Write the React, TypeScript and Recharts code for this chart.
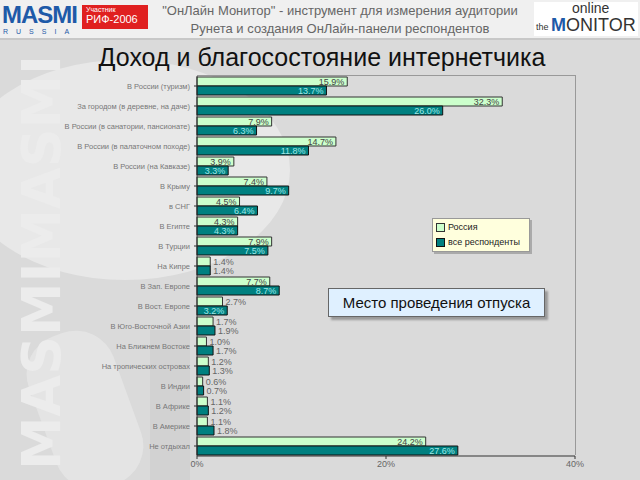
import React from "react";
import {
  Bar,
  BarChart,
  LabelList,
  XAxis,
  YAxis,
} from "recharts";

const places = [
  "В России (туризм)",
  "За городом (в деревне, на даче)",
  "В России (в санатории, пансионате)",
  "В России (в палаточном походе)",
  "В России (на Кавказе)",
  "В Крыму",
  "в СНГ",
  "В Египте",
  "В Турции",
  "На Кипре",
  "В Зап. Европе",
  "В Вост. Европе",
  "В Юго-Восточной Азии",
  "На Ближнем Востоке",
  "На тропических островах",
  "В Индии",
  "В Африке",
  "В Америке",
  "Не отдыхал",
];
const russia = [15.9, 32.3, 7.9, 14.7, 3.9, 7.4, 4.5, 4.3, 7.9, 1.4, 7.7, 2.7, 1.7, 1.0, 1.2, 0.6, 1.1, 1.1, 24.2];
const allResp = [13.7, 26.0, 6.3, 11.8, 3.3, 9.7, 6.4, 4.3, 7.5, 1.4, 8.7, 3.2, 1.9, 1.7, 1.3, 0.7, 1.2, 1.8, 27.6];
const xTicks = [0, 20, 40];

const data = places.map((p, i) => ({ place: p, russia: russia[i], all: allResp[i] }));

const valueLabel = (inside: string) => (props: any) => {
  const { x, y, width, height, value } = props;
  const txt = `${Number(value).toFixed(1)}%`;
  const fits = width > 30;
  return (
    <text
      x={fits ? x + width - 3 : x + width + 3}
      y={y + height / 2 + 3}
      fontSize={9}
      fontFamily="Arial, Liberation Sans, sans-serif"
      textAnchor={fits ? "end" : "start"}
      fill={fits ? inside : "#666"}
    >
      {txt}
    </text>
  );
};

const PlaceTick = (props: any) => {
  const { x, y, payload } = props;
  return (
    <text x={x - 2} y={y + 3} fontSize={7.5} textAnchor="end" fill="#777" fontFamily="Arial, Liberation Sans, sans-serif">
      {payload.value}
    </text>
  );
};

export default function App() {
  return (
    <div
      style={{
        position: "fixed",
        left: 0,
        top: 0,
        width: 640,
        height: 480,
        overflow: "hidden",
        background: "#dadada",
        fontFamily: "Arial, Liberation Sans, sans-serif",
      }}
    >
      {/* soft background shapes */}
      <div style={{ position: "absolute", left: -40, top: 60, width: 330, height: 220, borderRadius: "50%", background: "#e8e8e8" }} />
      <div style={{ position: "absolute", left: 40, top: 330, width: 90, height: 160, borderRadius: 40, background: "#e4e4e4", transform: "rotate(-20deg)" }} />
      <div style={{ position: "absolute", left: 150, top: 330, width: 40, height: 160, background: "#d2d2d2" }} />
      <svg width={80} height={480} style={{ position: "absolute", left: 0, top: 0 }}>
        <text
          x={-470}
          y={60}
          transform="rotate(-90)"
          fontSize={54}
          fontWeight="bold"
          fill="#ececec"
          textLength={415}
          lengthAdjust="spacingAndGlyphs"
          fontFamily="DejaVu Sans, sans-serif"
        >
          MASMIMASMI
        </text>
      </svg>

      {/* header */}
      <div style={{ position: "absolute", left: 0, top: 0, width: 640, height: 38, background: "#f0f0f0", borderBottom: "2px solid #c8c8c8" }} />
      <div style={{ position: "absolute", left: 2, top: 1, fontSize: 24, fontWeight: "bold", color: "#1e5aa8", letterSpacing: -1 }}>MASMI</div>
      <div style={{ position: "absolute", left: 3, top: 28, fontSize: 7, color: "#1e5aa8", letterSpacing: 8 }}>RUSSIA</div>
      <div style={{ position: "absolute", left: 82, top: 5, width: 66, height: 24, background: "#e02020", color: "#fff", fontSize: 11, lineHeight: "11px", paddingLeft: 4, boxSizing: "border-box" }}>
        <div style={{ fontSize: 7, lineHeight: "9px" }}>Участник</div>РИФ-2006
      </div>
      <div style={{ position: "absolute", left: 150, top: 2, width: 380, textAlign: "center", fontSize: 13, color: "#666", lineHeight: "18px", whiteSpace: "nowrap" }}>
        "ОнЛайн Монитор" - инструмент для измерения аудитории
        <br />
        Рунета и создания ОнЛайн-панели респондентов
      </div>
      <div style={{ position: "absolute", left: 534, top: 2, width: 104, height: 34, background: "#fff" }}>
        <div style={{ position: "absolute", left: 38, top: -2, fontSize: 14, color: "#333", lineHeight: "16px" }}>online</div>
        <div style={{ position: "absolute", left: 2, top: 20, fontSize: 9, color: "#333", lineHeight: "10px" }}>the</div>
        <div style={{ position: "absolute", left: 17, top: 13, fontSize: 18, color: "#333", lineHeight: "20px" }}>
          <span style={{ color: "#1e5aa8", fontWeight: "bold" }}>M</span>ONITOR
        </div>
      </div>
      <div style={{ position: "absolute", left: 0, top: 42, width: 640, textAlign: "center", fontSize: 25, color: "#111", paddingLeft: 2, lineHeight: "30px", whiteSpace: "nowrap" }}>
        Доход и благосостояние интернетчика
      </div>

      <div style={{ position: "absolute", left: 0, top: 0 }}>
        <BarChart
          width={640}
          height={480}
          data={data}
          layout="vertical"
          margin={{ top: 76, right: 65, bottom: 4, left: 0 }}
          barCategoryGap={1}
          barGap={0}
        >
          <XAxis
            type="number"
            domain={[0, 40]}
            ticks={xTicks}
            tickFormatter={(v) => `${v}%`}
            tick={{ fontSize: 9, fill: "#666" }}
            stroke="#333"
            tickSize={3}
            height={20}
          />
          <YAxis
            type="category"
            dataKey="place"
            width={197}
            interval={0}
            tick={<PlaceTick />}
            stroke="#333"
            tickSize={3}
          />
          <Bar dataKey="russia" name="Россия" fill="#ccffcc" stroke="#333" strokeWidth={1} isAnimationActive={false}>
            <LabelList dataKey="russia" content={valueLabel("#444")} />
          </Bar>
          <Bar dataKey="all" name="все респонденты" fill="#008080" stroke="#111" strokeWidth={1} isAnimationActive={false}>
            <LabelList dataKey="all" content={valueLabel("#9ee8e8")} />
          </Bar>
        </BarChart>
      </div>

      {/* plot frame top/right */}
      <div style={{ position: "absolute", left: 197, top: 75, width: 378, height: 0, borderTop: "1px solid #999" }} />
      <div style={{ position: "absolute", left: 575, top: 75, width: 0, height: 380, borderLeft: "1px solid #999" }} />

      {/* legend */}
      <div style={{ position: "absolute", left: 432, top: 218, width: 96, height: 32, background: "#ffffdd", border: "1px solid #999", boxShadow: "2px 2px 0 #aaa", fontSize: 9, color: "#222" }}>
        <div style={{ position: "absolute", left: 3, top: 3, display: "flex", alignItems: "center" }}>
          <span style={{ width: 7, height: 7, background: "#ccffcc", border: "1px solid #333", marginRight: 3, display: "inline-block" }} />
          Россия
        </div>
        <div style={{ position: "absolute", left: 3, top: 18, display: "flex", alignItems: "center" }}>
          <span style={{ width: 7, height: 7, background: "#008080", border: "1px solid #111", marginRight: 3, display: "inline-block" }} />
          все респонденты
        </div>
      </div>

      {/* caption */}
      <div style={{ position: "absolute", left: 328, top: 288, width: 215, height: 27, background: "#dff0ff", border: "1px solid #666", boxShadow: "3px 3px 2px #999", fontSize: 15, color: "#111", textAlign: "center", lineHeight: "27px" }}>
        Место проведения отпуска
      </div>
    </div>
  );
}
